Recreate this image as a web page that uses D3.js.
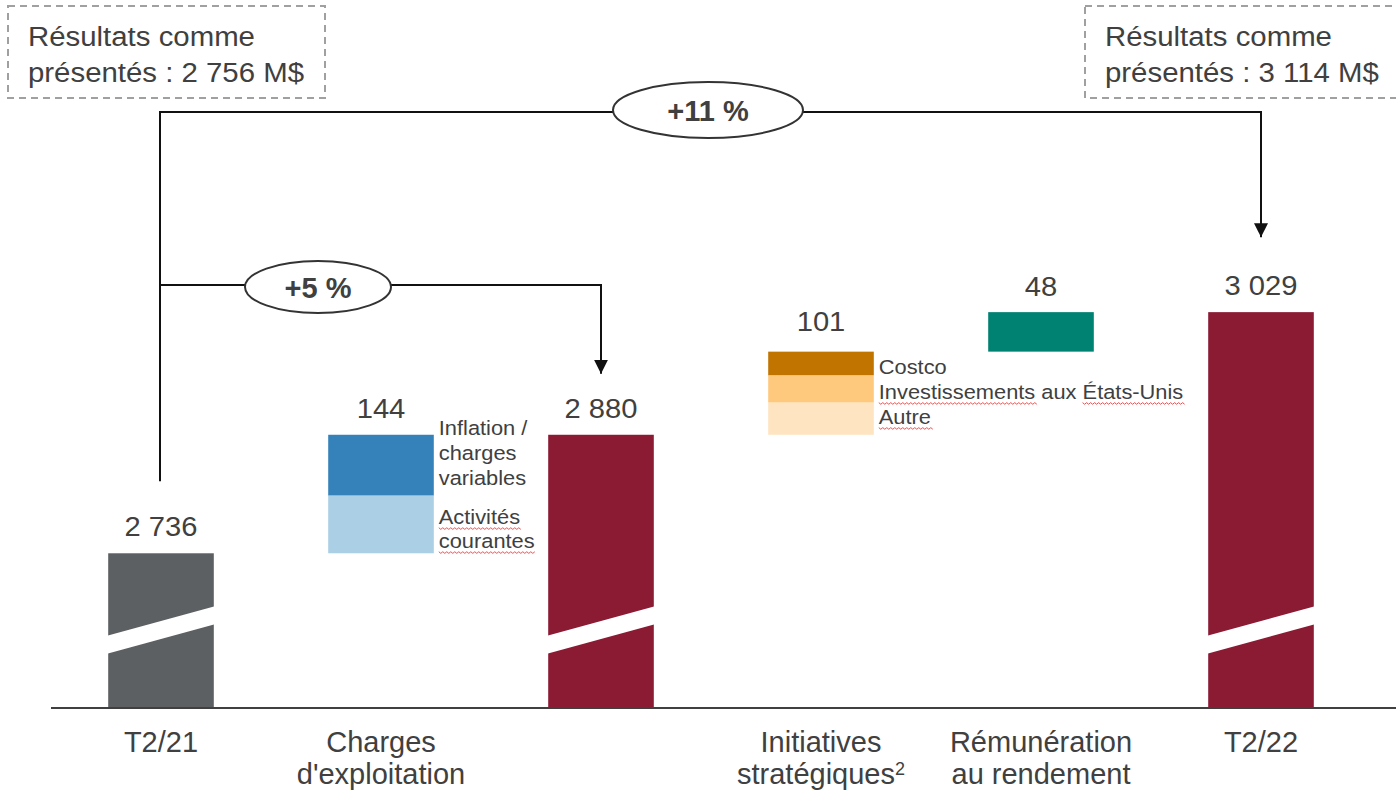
<!DOCTYPE html>
<html>
<head>
<meta charset="utf-8">
<script src="https://cdn.jsdelivr.net/npm/d3@7/dist/d3.min.js"></script>
<style>
  html, body { margin: 0; padding: 0; background: #fff; }
  svg { display: block; font-family: "Liberation Sans", Arial, sans-serif; }
</style>
</head>
<body>
<svg id="chart" width="1396" height="792"></svg>
<script>
// ---- data (M$) ----
const stepIds    = ["t221", "charges", "sub", "initiatives", "remun", "t222"];
const stepLabels = [["T2/21"], ["Charges", "d'exploitation"], [], ["Initiatives", "stratégiques²"], ["Rémunération", "au rendement"], ["T2/22"]];
const totals     = { t221: 2736, sub: 2880, t222: 3029 };
const totalLabels = { t221: "2 736", sub: "2 880", t222: "3 029" };

const chargesParts  = [74, 70];              // Inflation / charges variables, Activités courantes
const chargesNames  = [["Inflation /", "charges", "variables"], ["Activités", "courantes"]];
const initParts     = [29, 33, 39];          // Costco, Investissements aux États-Unis, Autre
const initNames     = ["Costco", "Investissements aux États-Unis", "Autre"];
const remunValue    = 48;
const deltaLabels   = { charges: "144", initiatives: "101", remun: "48" };

const reportedLeft  = ["Résultats comme", "présentés : 2 756 M$"];
const reportedRight = ["Résultats comme", "présentés : 3 114 M$"];
const growthLabels  = ["+11 %", "+5 %"];

// ---- colours ----
const C = {
  text: "#404040", gray: "#5d6063", red: "#8b1a33",
  blueDark: "#3582ba", blueLight: "#abcfe5",
  costco: "#c27400", invest: "#ffc97d", autre: "#ffe4c1",
  teal: "#008272", axis: "#404040"
};
const chargesColors = [C.blueDark, C.blueLight];
const initColors = [C.costco, C.invest, C.autre];

const svg = d3.select("#chart");
const baseY = 708;

// text placed at (x, y) and widened horizontally by sx
function wideText(parent, x, y, str, size, sx, anchor) {
  return parent.append("text")
    .attr("transform", `translate(${x},${y}) scale(${sx},1)`)
    .attr("text-anchor", anchor || "start")
    .attr("font-size", size).attr("fill", C.text).text(str);
}

// Broken value axis: the baseline stands for 2 548 M$
const y = d3.scaleLinear().domain([2548, 3100]).range([baseY, baseY - 552 * 0.823]);
const x = d3.scaleBand().domain(stepIds).range([51, 1371]).paddingInner(0.52).paddingOuter(0.26);
const bw = x.bandwidth();
const cx = id => x(id) + bw / 2;

// ---- totals ----
["t221", "sub", "t222"].forEach(id => {
  svg.append("rect")
    .attr("x", x(id)).attr("width", bw)
    .attr("y", y(totals[id])).attr("height", baseY - y(totals[id]))
    .attr("fill", id === "t221" ? C.gray : C.red);
  // axis-break band
  const x0 = x(id) - 2, x1 = x(id) + bw + 2;
  svg.append("path")
    .attr("d", `M${x0},${baseY - 72} L${x1},${baseY - 102} L${x1},${baseY - 84} L${x0},${baseY - 54} Z`)
    .attr("fill", "#fff");
  wideText(svg, cx(id), y(totals[id]) - 17, totalLabels[id], 27, 1.08, "middle");
});

// ---- operating expenses (stacked from the opening total) ----
let acc = totals.t221 + d3.sum(chargesParts);
chargesParts.forEach((v, i) => {
  svg.append("rect")
    .attr("x", x("charges")).attr("width", bw)
    .attr("y", y(acc)).attr("height", y(acc - v) - y(acc))
    .attr("fill", chargesColors[i]);
  acc -= v;
});
wideText(svg, cx("charges"), y(totals.sub) - 17, deltaLabels.charges, 27, 1.08, "middle");

// ---- strategic initiatives ----
let accI = totals.sub + d3.sum(initParts);
const initTop = accI;
initParts.forEach((v, i) => {
  svg.append("rect")
    .attr("x", x("initiatives")).attr("width", bw)
    .attr("y", y(accI)).attr("height", y(accI - v) - y(accI))
    .attr("fill", initColors[i]);
  accI -= v;
});
wideText(svg, cx("initiatives"), y(initTop) - 21, deltaLabels.initiatives, 27, 1.08, "middle");

// ---- performance-based compensation ----
const remTop = initTop + remunValue;
svg.append("rect")
  .attr("x", x("remun")).attr("width", bw)
  .attr("y", y(remTop)).attr("height", y(initTop) - y(remTop))
  .attr("fill", C.teal);
wideText(svg, cx("remun"), y(remTop) - 16, deltaLabels.remun, 27, 1.08, "middle");

// ---- baseline ----
svg.append("line")
  .attr("x1", 51).attr("x2", 1396).attr("y1", baseY).attr("y2", baseY)
  .attr("stroke", C.axis).attr("stroke-width", 2);

// ---- category labels ----
stepIds.forEach((id, i) => {
  stepLabels[i].forEach((line, j) => {
    const ly = 752 + j * 32;
    if (line.endsWith("²")) {
      const t = svg.append("text").attr("x", cx(id)).attr("y", ly)
        .attr("text-anchor", "middle").attr("font-size", 29).attr("fill", C.text);
      t.append("tspan").text(line.slice(0, -1));
      t.append("tspan").attr("font-size", 18).attr("dy", -9).text("2");
    } else {
      svg.append("text").attr("x", cx(id)).attr("y", ly)
        .attr("text-anchor", "middle").attr("font-size", 29).attr("fill", C.text).text(line);
    }
  });
});

// ---- wavy spell-check style underline ----
function squiggle(x0, x1, yy) {
  let d = `M${x0},${yy}`;
  for (let xx = x0, k = 0; xx < x1; xx += 2, k++) d += ` L${xx + 2},${yy + (k % 2 ? 0 : 1.6)}`;
  svg.append("path").attr("d", d).attr("fill", "none").attr("stroke", "#f05050").attr("stroke-width", 1);
}
const segSize = 19.5, segSx = 1.12;
function labelLine(xx, yy, str, marked) {
  const t = wideText(svg, xx, yy, str, segSize, segSx);
  marked.forEach(w => {
    const i = str.indexOf(w);
    const node = t.node();
    const s = (i > 0 ? node.getSubStringLength(0, i) : 0) * segSx;
    const l = node.getSubStringLength(i, w.length) * segSx;
    squiggle(xx + s, xx + s + l, yy + 4);
  });
}

// segment labels, operating expenses
const labX1 = x("charges") + bw + 5;
chargesNames[0].forEach((s, j) => labelLine(labX1, y(totals.sub) + 0 + j * 25, s, []));
chargesNames[1].forEach((s, j) => labelLine(labX1, y(totals.sub) + 89 + j * 24, s, [s]));

// segment labels, initiatives
const labX2 = x("initiatives") + bw + 5;
labelLine(labX2, y(initTop) + 22, initNames[0], []);
labelLine(labX2, y(initTop) + 47, initNames[1], ["Investissements", "États-Unis"]);
labelLine(labX2, y(initTop) + 72, initNames[2], ["Autre"]);

// ---- reported-results boxes ----
function reportBox(bx, bwid, lines) {
  svg.append("rect").attr("x", bx).attr("y", 6).attr("width", bwid).attr("height", 92)
    .attr("fill", "none").attr("stroke", "#a0a0a0").attr("stroke-width", 2).attr("stroke-dasharray", "7,5");
  lines.forEach((s, j) => wideText(svg, bx + 20, 46 + j * 36, s, 28, 1.05));
}
reportBox(8, 317, reportedLeft);
reportBox(1085, 320, reportedRight);

// ---- growth connectors ----
const defs = svg.append("defs");
defs.append("marker").attr("id", "arr").attr("viewBox", "0 0 10 10")
  .attr("refX", 10).attr("refY", 5).attr("markerWidth", 7).attr("markerHeight", 8)
  .attr("markerUnits", "strokeWidth").attr("orient", "auto")
  .append("path").attr("d", "M0,0 L10,5 L0,10 Z").attr("fill", "#111");

const topY = 112, midY = 285, srcX = cx("t221") - 1;
const line = (d, marker) => {
  const p = svg.append("path").attr("d", d).attr("fill", "none")
    .attr("stroke", "#111").attr("stroke-width", 2);
  if (marker) p.attr("marker-end", "url(#arr)");
};
line(`M${srcX},${y(totals.t221) - 72} L${srcX},${topY} L${cx("t222")},${topY} L${cx("t222")},${y(totals.t222) - 75}`, true);
line(`M${srcX},${midY} L${cx("sub")},${midY} L${cx("sub")},${y(totals.sub) - 61}`, true);

function badge(ex, ey, rx, ry, txt) {
  svg.append("ellipse").attr("cx", ex).attr("cy", ey).attr("rx", rx).attr("ry", ry)
    .attr("fill", "#fff").attr("stroke", "#333").attr("stroke-width", 2);
  svg.append("text").attr("x", ex).attr("y", ey + 11).attr("text-anchor", "middle")
    .attr("font-size", 29).attr("font-weight", "bold").attr("fill", C.text).text(txt);
}
badge(708, 110, 95, 28, growthLabels[0]);
badge(318, 287, 73, 26, growthLabels[1]);
</script>
</body>
</html>
